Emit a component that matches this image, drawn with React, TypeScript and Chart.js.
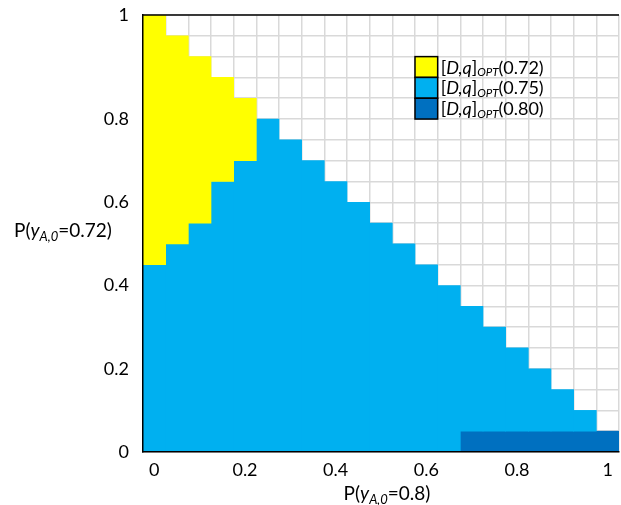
import React, { useEffect, useRef } from 'react';
import { Chart, registerables } from 'chart.js';

Chart.register(...registerables);

// Categories along x: P(y_A,0 = 0.8), one column per 0.05 step
const xCategories = [
  '0', '0.05', '0.1', '0.15', '0.2', '0.25', '0.3', '0.35', '0.4', '0.45', '0.5',
  '0.55', '0.6', '0.65', '0.7', '0.75', '0.8', '0.85', '0.9', '0.95', '1',
];
const xShownTicks = ['0', '0.2', '0.4', '0.6', '0.8', '1'];

// y axis: rows of 0.05, axis spans 21 rows
const yStep = 0.05;
const yMax = 1.05;
const yTickValues = [0, 0.2, 0.4, 0.6, 0.8, 1.05];
const yTickLabels = ['0', '0.2', '0.4', '0.6', '0.8', '1'];

// Upper boundary of each region per column (0 = region absent)
const darkBlueTop = [0, 0, 0, 0, 0, 0, 0, 0, 0, 0, 0, 0, 0, 0, 0.05, 0.05, 0.05, 0.05, 0.05, 0.05, 0.05];
const lightBlueTop = [0.45, 0.5, 0.55, 0.65, 0.7, 0.8, 0.75, 0.7, 0.65, 0.6, 0.55, 0.5, 0.45, 0.4, 0.35, 0.3, 0.25, 0.2, 0.15, 0.1, 0.05];
const yellowTop = [1.05, 1.0, 0.95, 0.9, 0.85, 0, 0, 0, 0, 0, 0, 0, 0, 0, 0, 0, 0, 0, 0, 0, 0];

const seriesNames = ['0.72', '0.75', '0.80'];
const seriesColors = ['#FFFF00', '#00B0F0', '#0070C0'];

const FONT = 'Lato';

type Seg = { text: string; italic?: boolean; sub?: boolean };

function drawRich(ctx: CanvasRenderingContext2D, segs: Seg[], x: number, y: number, size: number, subSize: number, subShift: number, align: 'left' | 'center') {
  const parts = segs.map((s) => {
    const fs = s.sub ? subSize : size;
    const font = `${s.italic ? 'italic ' : ''}${fs}px ${FONT}`;
    ctx.font = font;
    return { ...s, font, w: ctx.measureText(s.text).width };
  });
  const total = parts.reduce((a, p) => a + p.w, 0);
  let cx = align === 'center' ? x - total / 2 : x;
  ctx.textBaseline = 'alphabetic';
  ctx.textAlign = 'left';
  ctx.fillStyle = '#000';
  for (const p of parts) {
    ctx.font = p.font;
    ctx.fillText(p.text, cx, y + (p.sub ? subShift : 0));
    cx += p.w;
  }
}

const decorPlugin = {
  id: 'decor',
  afterDraw(chart: any) {
    const { ctx, chartArea } = chart;
    const { left, right, top, bottom } = chartArea;
    ctx.save();
    // top frame line
    ctx.strokeStyle = '#000';
    ctx.lineWidth = 1.5;
    ctx.beginPath();
    ctx.moveTo(left, top);
    ctx.lineTo(right, top);
    ctx.stroke();

    // axis titles
    drawRich(ctx, [
      { text: 'P(' }, { text: 'y', italic: true }, { text: 'A,0', italic: true, sub: true }, { text: '=0.8)' },
    ], 387, 500, 19, 13, 3.5, 'center');
    drawRich(ctx, [
      { text: 'P(' }, { text: 'y', italic: true }, { text: 'A,0', italic: true, sub: true }, { text: '=0.72)' },
    ], 14, 237, 19, 13, 3.5, 'left');

    // legend, aligned on the grid cells
    const colW = (right - left) / xCategories.length;
    const rowH = (bottom - top) / Math.round(yMax / yStep);
    const sx = left + colW * 12;
    for (let i = 0; i < seriesNames.length; i++) {
      const sy = top + rowH * (2 + i);
      ctx.fillStyle = seriesColors[i];
      ctx.fillRect(sx, sy, colW, rowH);
      ctx.strokeStyle = '#000';
      ctx.lineWidth = 1.5;
      ctx.strokeRect(sx, sy, colW, rowH);
      drawRich(ctx, [
        { text: '[' }, { text: 'D,q', italic: true }, { text: ']' },
        { text: 'OPT', italic: true, sub: true }, { text: `(${seriesNames[i]})` },
      ], sx + colW + 3, sy + rowH / 2 + 6.5, 18, 11.5, 2.5, 'left');
    }
    ctx.restore();
  },
};

export default function App() {
  const canvasRef = useRef<HTMLCanvasElement | null>(null);

  useEffect(() => {
    if (!canvasRef.current) return;
    const darkData = darkBlueTop.map((t) => (t > 0 ? [0, t] : null));
    const lightData = lightBlueTop.map((t, i) => (t > darkBlueTop[i] ? [darkBlueTop[i], t] : null));
    const yellowData = yellowTop.map((t, i) => (t > lightBlueTop[i] ? [lightBlueTop[i], t] : null));

    const chart = new Chart(canvasRef.current, {
      type: 'bar',
      data: {
        labels: xCategories,
        datasets: [
          { label: `[D,q]OPT(${seriesNames[0]})`, data: yellowData as any, backgroundColor: seriesColors[0] },
          { label: `[D,q]OPT(${seriesNames[1]})`, data: lightData as any, backgroundColor: seriesColors[1] },
          { label: `[D,q]OPT(${seriesNames[2]})`, data: darkData as any, backgroundColor: seriesColors[2] },
        ],
      },
      options: {
        animation: false,
        responsive: true,
        maintainAspectRatio: false,
        layout: { padding: { left: 0, top: 15, right: 2, bottom: 0 } },
        datasets: {
          bar: { barPercentage: 1, categoryPercentage: 1, grouped: false, borderWidth: 0 },
        },
        plugins: { legend: { display: false }, tooltip: { enabled: false } },
        scales: {
          x: {
            type: 'category',
            offset: true,
            grid: { offset: true, color: '#d9d9d9', lineWidth: 1.5, drawTicks: false },
            border: { display: true, color: '#000', width: 1.5, z: 1 },
            ticks: {
              autoSkip: false,
              maxRotation: 0,
              padding: 7,
              color: '#000',
              font: { family: FONT, size: 18 },
              callback: (_v: any, i: number) => (xShownTicks.includes(xCategories[i]) ? xCategories[i] : ''),
            },
            afterFit: (s: any) => { s.height = 53; s.paddingLeft = 0; s.paddingRight = 0; },
          },
          y: {
            type: 'linear',
            min: 0,
            max: yMax,
            afterBuildTicks: (s: any) => {
              const n = Math.round(yMax / yStep);
              const t = [];
              for (let i = 0; i <= n; i++) t.push({ value: +(i * yStep).toFixed(2) });
              s.ticks = t;
            },
            grid: { color: '#d9d9d9', lineWidth: 1.5, drawTicks: false },
            border: { display: true, color: '#000', width: 1.5, z: 1 },
            ticks: {
              autoSkip: false,
              padding: 14,
              color: '#000',
              font: { family: FONT, size: 18 },
              callback: (v: any) => {
                const k = yTickValues.findIndex((tv) => Math.abs(tv - v) < 1e-6);
                return k >= 0 ? yTickLabels[k] : '';
              },
            },
            afterFit: (s: any) => { s.width = 143; s.paddingTop = 0; s.paddingBottom = 0; },
          },
        },
      },
      plugins: [decorPlugin],
    });
    return () => chart.destroy();
  }, []);

  return (
    <div style={{ position: 'fixed', left: 0, top: 0, width: 621, height: 505 }}>
      <canvas ref={canvasRef} />
    </div>
  );
}
